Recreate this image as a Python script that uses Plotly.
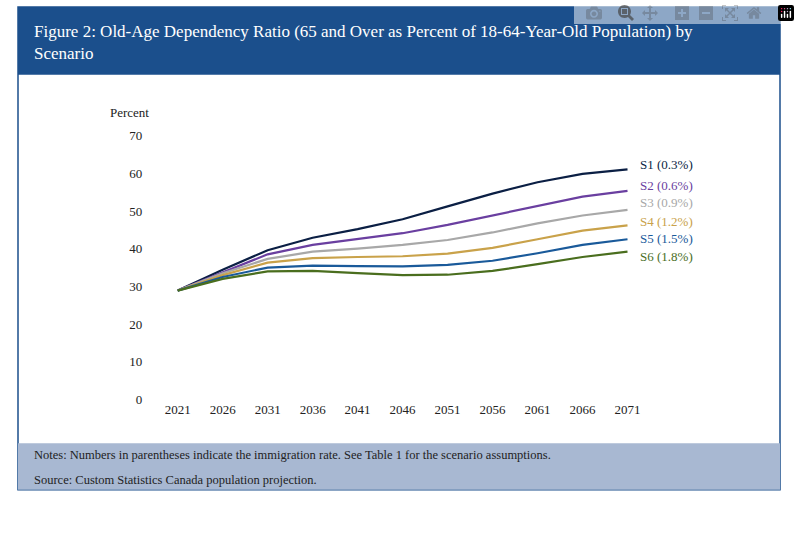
import plotly.graph_objects as go

# === DATA ===
tahun = ['2021', '2026', '2031', '2036', '2041', '2046', '2051', '2056', '2061', '2066', '2071']
skenario = {
    'S1 (0.3%)': ([28.9, 34.4, 39.6, 42.9, 45.2, 47.8, 51.2, 54.6, 57.6, 59.8, 61.0], '#0b1f44'),
    'S2 (0.6%)': ([28.9, 33.8, 38.5, 41.0, 42.5, 44.1, 46.3, 48.8, 51.4, 53.8, 55.3], '#6a3fa0'),
    'S3 (0.9%)': ([28.9, 33.5, 37.3, 39.2, 40.0, 41.0, 42.3, 44.3, 46.7, 48.8, 50.3], '#a8a8a8'),
    'S4 (1.2%)': ([28.9, 33.0, 36.3, 37.5, 37.8, 38.0, 38.7, 40.2, 42.5, 44.8, 46.2], '#c9a24a'),
    'S5 (1.5%)': ([28.9, 32.5, 35.0, 35.5, 35.4, 35.3, 35.7, 36.8, 38.8, 41.0, 42.5], '#1a5a9a'),
    'S6 (1.8%)': ([28.9, 32.0, 34.0, 34.1, 33.5, 33.0, 33.1, 34.1, 35.9, 37.8, 39.2], '#4a6e1e'),
}
label_y = {'S1 (0.3%)': 62.3, 'S2 (0.6%)': 56.8, 'S3 (0.9%)': 52.2,
           'S4 (1.2%)': 47.3, 'S5 (1.5%)': 42.8, 'S6 (1.8%)': 37.9}

# === VISUALISASI ===
fig = go.Figure()
for nama, (nilai, warna) in skenario.items():
    fig.add_trace(go.Scatter(
        x=tahun, y=nilai, mode='lines', name=nama,
        line=dict(color=warna, width=2.2),
    ))
    fig.add_annotation(x=10, y=label_y[nama], text=nama, xref='x', yref='y',
                       xshift=10, xanchor='left', showarrow=False,
                       font=dict(color=warna, size=13))

fig.update_layout(
    width=800, height=533,
    template='plotly_white',
    font=dict(size=13, family='Liberation Serif, serif', color='#222222'),
    showlegend=False,
    plot_bgcolor='white', paper_bgcolor='white',
    margin=dict(l=0, r=0, t=0, b=0),
    xaxis=dict(domain=[0.194, 0.8125], range=[-0.5, 10.5], type='category',
               showgrid=False, zeroline=False, showline=False, ticks='',
               tickfont=dict(color='#222222')),
    yaxis=dict(domain=[0.242, 0.752], range=[0, 70], dtick=10,
               showgrid=False, zeroline=False, showline=False, ticks='',
               ticklabelstandoff=12, tickfont=dict(color='#222222')),
)

# === BINGKAI, JUDUL, CATATAN ===
fig.add_shape(type='rect', xref='paper', yref='paper', x0=0.0225, x1=0.975, y0=0.068, y1=1,
              line=dict(color='#1b4f8c', width=1.5), fillcolor='rgba(0,0,0,0)')
fig.add_shape(type='rect', xref='paper', yref='paper', x0=0.0225, x1=0.975, y0=0.869, y1=1,
              line=dict(width=0), fillcolor='#1b4f8c')
fig.add_shape(type='rect', xref='paper', yref='paper', x0=0.0225, x1=0.975, y0=0.068, y1=0.158,
              line=dict(width=0), fillcolor='#a8b8d2')
fig.add_annotation(x=0.04, y=0.975, xref='paper', yref='paper', xanchor='left', yanchor='top',
                   align='left', showarrow=False, font=dict(color='white', size=17),
                   text='Figure 2: Old-Age Dependency Ratio (65 and Over as Percent of 18-64-Year-Old Population) by<br>Scenario')
fig.add_annotation(x=0.135, y=0.815, xref='paper', yref='paper', xanchor='left', showarrow=False,
                   text='Percent', font=dict(size=13))
fig.add_annotation(x=0.04, y=0.152, xref='paper', yref='paper', xanchor='left', yanchor='top',
                   align='left', showarrow=False, font=dict(size=12.5),
                   text='Notes: Numbers in parentheses indicate the immigration rate. See Table 1 for the scenario assumptions.')
fig.add_annotation(x=0.04, y=0.105, xref='paper', yref='paper', xanchor='left', yanchor='top',
                   align='left', showarrow=False, font=dict(size=12.5),
                   text='Source: Custom Statistics Canada population projection.')

fig.write_html('out.html', post_script="document.body.style.margin='0';")
